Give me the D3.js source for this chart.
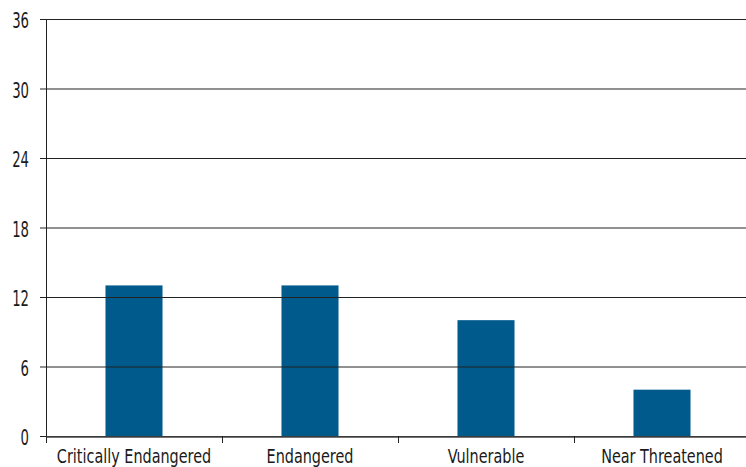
<!DOCTYPE html>
<html><head><meta charset="utf-8">
<script src="https://cdn.jsdelivr.net/npm/d3@7"></script>
<style>body{margin:0;background:#fff}svg{display:block}text{font-family:"DejaVu Sans Condensed","DejaVu Sans",sans-serif;font-stretch:condensed;fill:#1a1a1a}</style>
</head><body>
<script>
const categories = ["Critically Endangered","Endangered","Vulnerable","Near Threatened"];
const values = [13,13,10,4];
const yTicks = [0,6,12,18,24,30,36];

const W=746,H=467, m={left:46,right:-4,top:19,bottom:31};
const svg=d3.select("body").append("svg").attr("width",W).attr("height",H);
const x=d3.scaleBand().domain(categories).range([m.left,W-m.right]).padding(0);
const y=d3.scaleLinear().domain([0,36]).range([H-m.bottom,m.top]);
const barW=x.bandwidth()*0.324;

svg.append("g").selectAll("rect").data(values).join("rect")
  .attr("x",(d,i)=>x(categories[i])+x.bandwidth()/2-barW/2)
  .attr("y",d=>y(d)).attr("width",barW).attr("height",d=>y(0)-y(d))
  .attr("fill","#005a8c");

const ysx=0.7;
const gy=svg.append("g").attr("transform",`translate(${m.left},0)`)
  .call(d3.axisLeft(y).tickValues(yTicks).tickSize(6).tickPadding(10).tickSizeOuter(0));
gy.select(".domain").remove();
gy.selectAll(".tick line").attr("stroke","#222");
gy.selectAll(".tick text").attr("font-size",21).attr("fill","#1a1a1a")
  .attr("x",-17/ysx).attr("dy","0.42em").attr("transform",`scale(${ysx},1)`);
svg.append("g").selectAll("line").data(yTicks).join("line")
  .attr("x1",m.left).attr("x2",W).attr("y1",d=>y(d)+0.5).attr("y2",d=>y(d)+0.5)
  .attr("stroke","#222").attr("stroke-width",1);
gy.selectAll(".tick").attr("transform",d=>`translate(0,${y(d)+0.5})`);

svg.append("line").attr("x1",m.left+0.5).attr("x2",m.left+0.5).attr("y1",m.top).attr("y2",y(0)+7)
  .attr("stroke","#222");

const xsx=0.8;
const gx=svg.append("g").attr("transform",`translate(0,${y(0)+0.5})`)
  .call(d3.axisBottom(x).tickSize(0).tickPadding(9));
gx.select(".domain").attr("stroke","#444").attr("stroke-width",1.5);
gx.selectAll(".tick text").attr("font-size",20).attr("fill","#1a1a1a")
  .attr("y",26.5).attr("dy",0).attr("transform",`scale(${xsx},1)`);
svg.append("g").selectAll("line").data(categories.slice(1)).join("line")
  .attr("x1",d=>x(d)+0.5).attr("x2",d=>x(d)+0.5).attr("y1",y(0)).attr("y2",y(0)+7)
  .attr("stroke","#222");
</script>
</body></html>
